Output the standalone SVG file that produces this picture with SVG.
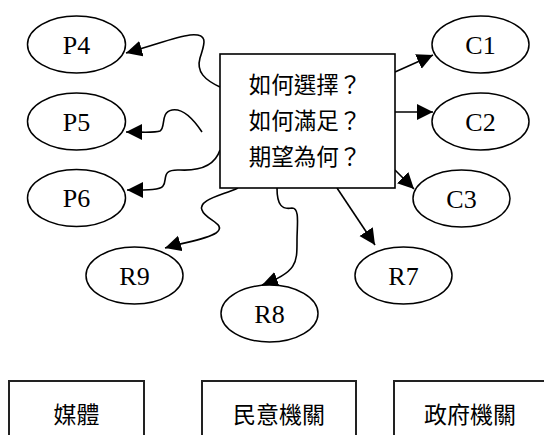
<svg xmlns="http://www.w3.org/2000/svg" width="544" height="435" viewBox="0 0 544 435">
<style>
.node ellipse{fill:#fff;stroke:#000;stroke-width:1.5}
.box{fill:#fff;stroke:#000;stroke-width:1.6}
.lbl{font-family:"Liberation Serif","Times New Roman",serif;font-size:26px;text-anchor:middle;fill:#000}
.cjk{font-family:"Liberation Serif","Noto Sans CJK TC",serif;font-size:22.5px;text-anchor:middle;fill:#000}
.cjkb{font-family:"Liberation Serif","Noto Sans CJK TC",serif;font-size:23px;text-anchor:middle;fill:#000}
.edge{fill:none;stroke:#000;stroke-width:1.6;marker-end:url(#arr)}
.bbox{fill:#fff;stroke:#222;stroke-width:2}
</style>
<defs>
<marker id="arr" markerUnits="userSpaceOnUse" markerWidth="18" markerHeight="18" refX="16" refY="8" orient="auto" viewBox="0 0 18 18">
<path d="M0,0 L16,8 L0,16 Z" fill="#000"/>
</marker>
</defs>
<rect width="544" height="435" fill="#fff"/>
<g id="connectors">
<path class="edge" d="M220,87 C205,80 196,72 200,58 C204,45 210,33 190,35 C175,37 158,44 126,53"/>
<path class="edge" d="M202,132 C194,120 183,108 172,110 C160,112 166,128 160,131 C155,133 145,132 126,132"/>
<path class="edge" d="M220,150 C215,165 200,171 180,170 C160,169 168,180 163,186 C160,190 150,190 127,190"/>
<path class="edge" d="M238,188 C220,196 198,200 202,210 C205,220 228,224 216,233 C205,240 185,242 165,248"/>
<path class="edge" d="M277,188 C277,205 282,210 292,208 C300,208 297,225 297,240 C297,262 298,272 262,285"/>
<path class="edge" d="M337,188 L375,245"/>
<path class="edge" d="M395,72 L433,55"/>
<path class="edge" d="M395,112 L433,112"/>
<path class="edge" d="M395,170 L414,189"/>
</g>
<g id="center">
<rect class="box" x="220" y="54" width="175" height="134"/>
<text class="cjk" x="305" y="93">如何選擇？</text>
<text class="cjk" x="305" y="129">如何滿足？</text>
<text class="cjk" x="305" y="165">期望為何？</text>
</g>
<g id="P4" class="node"><ellipse cx="76.5" cy="44.5" rx="49" ry="28.5"/><text class="lbl" x="76.5" y="53.5">P4</text></g>
<g id="P5" class="node"><ellipse cx="76.5" cy="121.5" rx="49" ry="28.5"/><text class="lbl" x="76.5" y="130.5">P5</text></g>
<g id="P6" class="node"><ellipse cx="76.5" cy="198" rx="49" ry="28.5"/><text class="lbl" x="76.5" y="207">P6</text></g>
<g id="C1" class="node"><ellipse cx="480.5" cy="44.5" rx="48.5" ry="28.5"/><text class="lbl" x="480.5" y="53.5">C1</text></g>
<g id="C2" class="node"><ellipse cx="480.5" cy="121.5" rx="48.5" ry="28.5"/><text class="lbl" x="480.5" y="130.5">C2</text></g>
<g id="C3" class="node"><ellipse cx="461.5" cy="198.5" rx="48.5" ry="28.5"/><text class="lbl" x="461.5" y="207.5">C3</text></g>
<g id="R9" class="node"><ellipse cx="134.5" cy="275.5" rx="48.5" ry="28.5"/><text class="lbl" x="134.5" y="284.5">R9</text></g>
<g id="R8" class="node"><ellipse cx="269.5" cy="313.5" rx="48.5" ry="28.5"/><text class="lbl" x="269.5" y="322.5">R8</text></g>
<g id="R7" class="node"><ellipse cx="403.5" cy="275.5" rx="48.5" ry="28.5"/><text class="lbl" x="403.5" y="284.5">R7</text></g>
<g id="media"><rect class="bbox" x="9" y="381" width="135" height="70"/><text class="cjkb" x="76.5" y="423">媒體</text></g>
<g id="legislature"><rect class="bbox" x="202" y="381" width="154" height="70"/><text class="cjkb" x="279" y="423">民意機關</text></g>
<g id="government"><rect class="bbox" x="394" y="381" width="154" height="70"/><text class="cjkb" x="470" y="423">政府機關</text></g>
</svg>
